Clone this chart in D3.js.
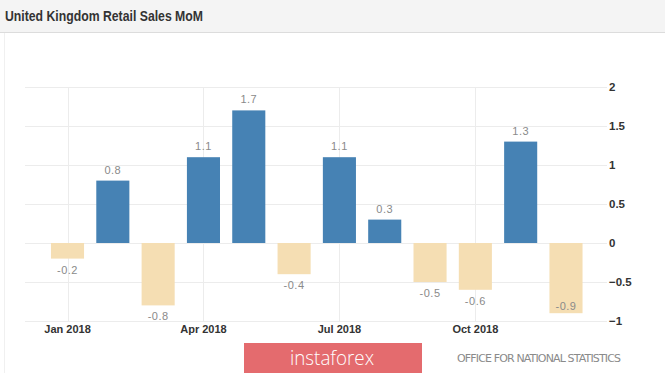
<!DOCTYPE html>
<html>
<head>
<meta charset="utf-8">
<script src="https://cdn.jsdelivr.net/npm/d3@7"></script>
<style>
  html, body { margin: 0; padding: 0; background: #fff; }
  svg { display: block; font-family: "Liberation Sans", Arial, sans-serif; }
</style>
</head>
<body>
<div id="chart"></div>
<script>
// --- Data ---
const title = "United Kingdom Retail Sales MoM";
const months = ["Jan", "Feb", "Mar", "Apr", "May", "Jun", "Jul", "Aug", "Sep", "Oct", "Nov", "Dec"];
const values = [-0.2, 0.8, -0.8, 1.1, 1.7, -0.4, 1.1, 0.3, -0.5, -0.6, 1.3, -0.9];
const yTicks = [2, 1.5, 1, 0.5, 0, -0.5, -1];
const xTickMonths = ["Jan", "Apr", "Jul", "Oct"];
const xTickLabels = ["Jan 2018", "Apr 2018", "Jul 2018", "Oct 2018"];
const sourceText = "OFFICE FOR NATIONAL STATISTICS";
const brandText = "instaforex";

const width = 665, height = 375;
const svg = d3.select("#chart").append("svg")
  .attr("width", width)
  .attr("height", height);

// header strip
svg.append("rect").attr("x", 0).attr("y", 0).attr("width", width).attr("height", 32).attr("fill", "#f4f4f4");
svg.append("line").attr("x1", 0).attr("x2", width).attr("y1", 32.5).attr("y2", 32.5).attr("stroke", "#dcdcdc");
svg.append("text")
  .attr("x", 5).attr("y", 20.5)
  .attr("font-size", 15.5).attr("font-weight", "bold")
  .attr("fill", "#333")
  .attr("textLength", 198)
  .attr("lengthAdjust", "spacingAndGlyphs")
  .text(title);
// faint panel border
svg.append("line").attr("x1", 4.5).attr("x2", 4.5).attr("y1", 33).attr("y2", 373).attr("stroke", "#f0f0f0");

// Scales
const x = d3.scaleBand()
  .domain(months)
  .range([44.85, 588.65])
  .paddingInner(0.27)
  .paddingOuter(0.135);
const y = d3.scaleLinear()
  .domain([-1, 2])
  .range([321, 87]);

// Gridlines
const grid = svg.append("g");
grid.selectAll("line.h")
  .data(yTicks)
  .enter().append("line")
  .attr("x1", 25).attr("x2", 607)
  .attr("y1", d => Math.round(y(d)) + 0.5)
  .attr("y2", d => Math.round(y(d)) + 0.5)
  .attr("stroke", "#ececec");
grid.selectAll("line.v")
  .data(xTickMonths)
  .enter().append("line")
  .attr("x1", d => Math.round(x(d) + x.bandwidth() / 2) + 0.5)
  .attr("x2", d => Math.round(x(d) + x.bandwidth() / 2) + 0.5)
  .attr("y1", y(2)).attr("y2", y(-1))
  .attr("stroke", "#ececec");

// Y axis (right)
const yAxis = d3.axisRight(y).tickValues(yTicks).tickSize(0).tickPadding(0)
  .tickFormat(d => d3.format("")(d));
const yG = svg.append("g")
  .attr("transform", "translate(609,0)")
  .call(yAxis);
yG.select(".domain").remove();
yG.selectAll("text")
  .attr("font-size", 11.5)
  .attr("font-weight", "bold")
  .attr("fill", "#333")
  .attr("font-family", "'Liberation Sans', Arial, sans-serif");

// X axis
const xAxis = d3.axisBottom(x)
  .tickValues(xTickMonths)
  .tickSize(0)
  .tickPadding(0)
  .tickFormat(d => xTickLabels[xTickMonths.indexOf(d)]);
const xG = svg.append("g")
  .attr("transform", "translate(0,325)")
  .call(xAxis);
xG.select(".domain").remove();
xG.selectAll("text")
  .attr("font-size", 11)
  .attr("font-weight", "bold")
  .attr("fill", "#333")
  .attr("font-family", "'Liberation Sans', Arial, sans-serif");

// Bars
svg.append("g")
  .selectAll("rect")
  .data(values)
  .enter().append("rect")
  .attr("x", (d, i) => x(months[i]))
  .attr("width", x.bandwidth())
  .attr("y", d => y(Math.max(0, d)))
  .attr("height", d => Math.abs(y(d) - y(0)))
  .attr("fill", d => d >= 0 ? "#4682b4" : "#f5deb3");

// Value labels
svg.append("g")
  .selectAll("text")
  .data(values)
  .enter().append("text")
  .attr("x", (d, i) => x(months[i]) + x.bandwidth() / 2)
  .attr("y", d => {
    if (d >= 0) return y(d) - 7;
    const below = y(d) + 15;
    return below > y.range()[0] + 2 ? y(d) - 3 : below;
  })
  .attr("text-anchor", "middle")
  .attr("font-size", 11)
  .attr("letter-spacing", 0.5)
  .attr("fill", "#8a8a8a")
  .text(d => d3.format("")(d).replace("−", "-"));

// instaforex banner
svg.append("rect")
  .attr("x", 244).attr("y", 343).attr("width", 178).attr("height", 30)
  .attr("fill", "#e46b6e");
svg.append("text")
  .attr("x", 290).attr("y", 364.5)
  .attr("font-size", 20)
  .attr("font-family", "'Open Sans', 'DejaVu Sans', sans-serif")
  .attr("font-weight", 300)
  .attr("fill", "#fff")
  .attr("textLength", 84)
  .attr("lengthAdjust", "spacingAndGlyphs")
  .text(brandText);

// source
svg.append("text")
  .attr("x", 457).attr("y", 361.5)
  .attr("font-size", 11)
  .attr("fill", "#8a8a8a")
  .attr("font-family", "'DejaVu Sans', sans-serif")
  .attr("textLength", 164)
  .text(sourceText);
</script>
</body>
</html>
